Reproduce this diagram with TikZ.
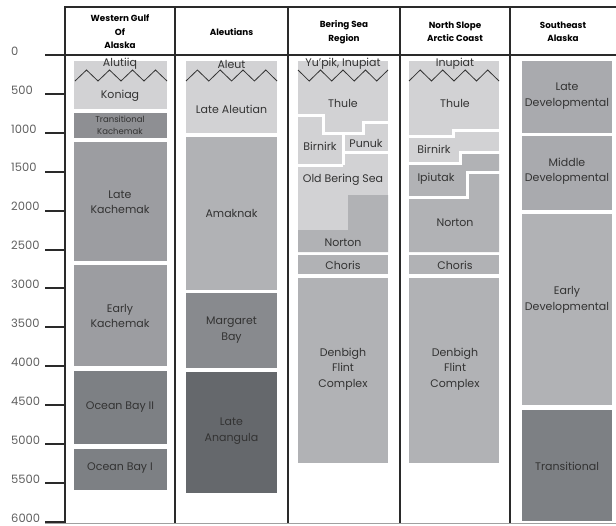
\documentclass[tikz,border=0pt]{standalone}
\usepackage{fontspec}
\setmainfont{Poppins}
\definecolor{cLight}{HTML}{D2D2D4}
\definecolor{cMed}{HTML}{B1B2B5}
\definecolor{cDev}{HTML}{A9AAAE}
\definecolor{cKach}{HTML}{9C9DA1}
\definecolor{cTK}{HTML}{8E8F93}
\definecolor{cMB}{HTML}{888A8E}
\definecolor{cOB}{HTML}{7D8084}
\definecolor{cLA}{HTML}{65686C}
\definecolor{cFrame}{HTML}{2A2A2A}
\definecolor{cText}{HTML}{333333}
\definecolor{cTick}{HTML}{606060}
\tikzset{
  frame/.style={draw=cFrame, line width=2.2pt},
  tickmark/.style={draw=cFrame, line width=2pt},
  ticklbl/.style={anchor=west, inner sep=0pt, text=cTick, font=\fontsize{11.5}{13}\selectfont},
  hdr/.style={align=center, inner sep=0pt, text=black, font=\fontsize{8.8}{13.5}\selectfont\bfseries},
  lbl/.style={align=center, inner sep=0pt, text=cText, font=\fontsize{11}{15.5}\selectfont},
  small/.style={align=center, inner sep=0pt, text=cText, font=\fontsize{8.5}{12}\selectfont},
  gap/.style={draw=white, line width=3pt},
  zig/.style={draw=cText, line width=0.8pt, line join=miter},
}
\begin{document}
\begin{tikzpicture}[x=1pt,y=-1pt]
\useasboundingbox (0,0) rectangle (616,525);
\fill[white] (0,0) rectangle (616,525);

% ---- column 1: Western Gulf of Alaska
\fill[cLight] (74,61) rectangle (167,109);
\fill[cTK]    (74,113) rectangle (167,138);
\fill[cKach]  (74,142) rectangle (167,261);
\fill[cKach]  (74,265) rectangle (167,366);
\fill[cOB]    (74,371) rectangle (167,444);
\fill[cOB]    (74,449) rectangle (167,490);

% ---- column 2: Aleutians
\fill[cLight] (186,61) rectangle (277,133);
\fill[cMed]   (186,137) rectangle (277,290);
\fill[cMB]    (186,293) rectangle (277,368);
\fill[cLA]    (186,372) rectangle (277,493);

% ---- column 3: Bering Sea Region
\fill[cLight] (298,61) rectangle (388,252);
\fill[cMed] (298,230) -- (348,230) -- (348,195) -- (388,195) -- (388,252) -- (298,252) -- cycle;
\draw[gap] (296,115) -- (323,115) -- (323,133) -- (363,133) -- (363,122) -- (390,122);
\draw[gap] (343,133) -- (343,165);
\draw[gap] (296,165) -- (343,165);
\draw[gap] (343,152) -- (390,152);
\fill[cMed] (298,255) rectangle (388,274);
\fill[cMed] (298,278) rectangle (388,463);

% ---- column 4: North Slope Arctic Coast
\fill[cLight] (409,61) rectangle (499,252);
\fill[cMed] (409,163) -- (460,163) -- (460,152) -- (499,152) -- (499,252) -- (409,252) -- cycle;
\draw[gap] (407,136) -- (453,136) -- (453,130) -- (501,130);
\draw[gap] (407,163) -- (460,163) -- (460,152) -- (501,152);
\draw[gap] (407,197) -- (467,197) -- (467,172) -- (501,172);
\fill[cMed] (409,255) rectangle (499,274);
\fill[cMed] (409,278) rectangle (499,463);

% ---- column 5: Southeast Alaska
\fill[cDev] (522,61) rectangle (612,133);
\fill[cDev] (522,136) rectangle (612,210);
\fill[cMed] (522,214) rectangle (612,405);
\fill[cOB]  (522,410) rectangle (612,521);

% ---- zigzags
\draw[zig] (75,81) -- (86.5,70) -- (98,81) -- (109.5,70) -- (121,81) -- (132.5,70) -- (144,81) -- (155.5,70) -- (167,81);
\draw[zig] (186,81) -- (197.4,70) -- (208.8,81) -- (220.2,70) -- (231.6,81) -- (243,70) -- (254.4,81) -- (265.8,70) -- (277,81);
\draw[zig] (298,70) -- (309.2,81) -- (320.5,70) -- (331.7,81) -- (343,70) -- (354.2,81) -- (365.5,70) -- (376.7,81) -- (388,70);
\draw[zig] (409,81) -- (420.2,70) -- (431.5,81) -- (442.7,70) -- (454,81) -- (465.2,70) -- (476.5,81) -- (487.7,70) -- (499,81);

% ---- frame
\draw[frame] (64,7) -- (616,7);
\draw[frame] (45,55) -- (616,55);
\draw[frame] (65,6) -- (65,523);
\draw[frame] (175,6) -- (175,523);
\draw[frame] (288,6) -- (288,523);
\draw[frame] (400,6) -- (400,523);
\draw[frame] (510,6) -- (510,523);
\draw[draw=cTick!60, line width=0.8pt] (45,523.5) -- (616,523.5);

% ---- axis ticks and labels
\node[ticklbl] (t0) at (11,51) {0};
\foreach \t in {500,1000,...,6000}{
  \draw[tickmark] (45,{55+\t*0.0778}) -- (65,{55+\t*0.0778});
  \node[ticklbl] (t\t) at (11,{51+\t*0.0778}) {\t};
}

% ---- headers
\node[hdr] (h1) at (120,32) {Western Gulf\\Of\\Alaska};
\node[hdr] (h2) at (231.5,32) {Aleutians};
\node[hdr] (h3) at (344,32) {Bering Sea\\Region};
\node[hdr] (h4) at (455,32) {North Slope\\Arctic Coast};
\node[hdr] (h5) at (563,32) {Southeast\\Alaska};

% ---- column 1 labels
\node[lbl] (alutiiq) at (120,64) {Alutiiq};
\node[lbl] (koniag) at (120,96) {Koniag};
\node[small] (transk) at (120,125) {Transitional\\Kachemak};
\node[lbl] (latek) at (120,202) {Late\\Kachemak};
\node[lbl] (earlyk) at (120,316) {Early\\Kachemak};
\node[lbl] (ob2) at (120,407) {Ocean Bay II};
\node[lbl] (ob1) at (120,468) {Ocean Bay I};

% ---- column 2 labels
\node[lbl] (aleut) at (231.5,64) {Aleut};
\node[lbl] (latealeut) at (231.5,109) {Late Aleutian};
\node[lbl] (amaknak) at (231.5,213) {Amaknak};
\node[lbl] (margaret) at (231.5,330) {Margaret\\Bay};
\node[lbl] (anangula) at (231.5,431) {Late\\Anangula};

% ---- column 3 labels
\node[lbl] (yupik) at (343,64) {Yu'pik, Inupiat};
\node[lbl] (thule3) at (343,103) {Thule};
\node[lbl] (birnirk3) at (320,146) {Birnirk};
\node[lbl] (punuk) at (366,143) {Punuk};
\node[lbl] (obs) at (343,180) {Old Bering Sea};
\node[lbl] (norton3) at (343,243) {Norton};
\node[lbl] (choris3) at (343,265) {Choris};
\node[lbl] (denbigh3) at (343,369) {Denbigh\\Flint\\Complex};

% ---- column 4 labels
\node[lbl] (inupiat) at (455,64) {Inupiat};
\node[lbl] (thule4) at (455,103) {Thule};
\node[lbl] (birnirk4) at (434,149) {Birnirk};
\node[lbl] (ipiutak) at (436,179) {Ipiutak};
\node[lbl] (norton4) at (455,223) {Norton};
\node[lbl] (choris4) at (455,265) {Choris};
\node[lbl] (denbigh4) at (455,369) {Denbigh\\Flint\\Complex};

% ---- column 5 labels
\node[lbl] (latedev) at (567,96) {Late\\Developmental};
\node[lbl] (middev) at (567,171) {Middle\\Developmental};
\node[lbl] (earlydev) at (567,300) {Early\\Developmental};
\node[lbl] (transit) at (567,466) {Transitional};
\end{tikzpicture}
\end{document}
